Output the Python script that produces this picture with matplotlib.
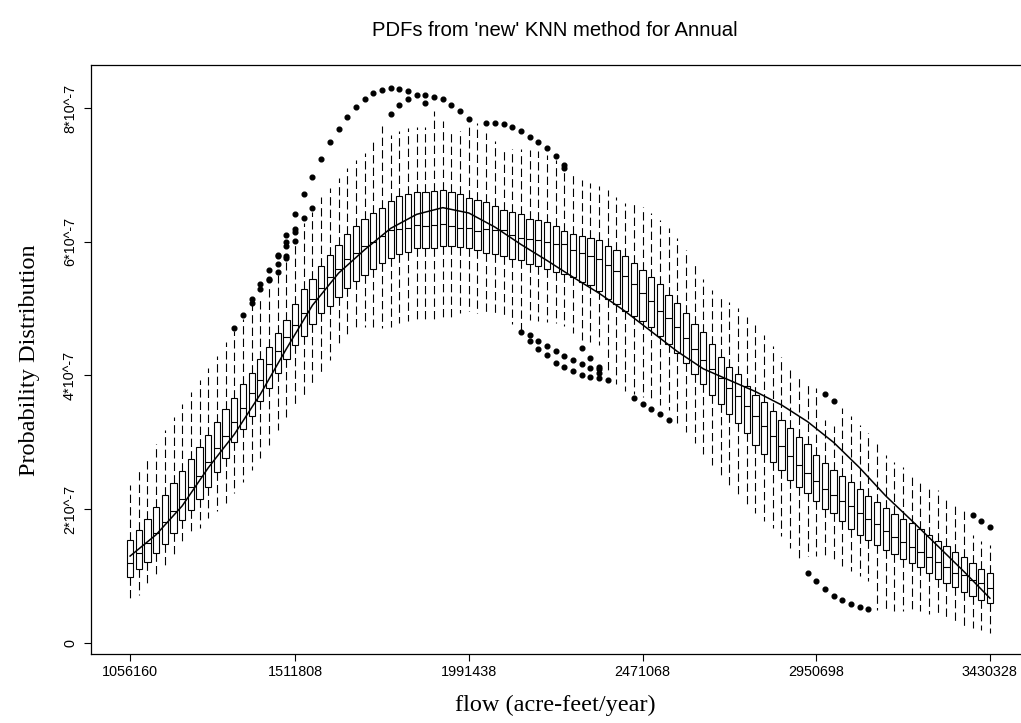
import matplotlib
matplotlib.use("Agg")
import matplotlib.pyplot as plt

plt.rcParams['lines.scale_dashes'] = False

# ---------------- data (values in units of 1e-7) ----------------
box_pos = list(range(1, 101))

whislo = [0.61, 0.72, 0.84, 0.99, 1.16, 1.33, 1.51, 1.62, 1.72, 1.87,
          1.97, 2.10, 2.25, 2.41, 2.58, 2.76, 2.96, 3.18, 3.38, 3.55,
          3.71, 3.87, 4.05, 4.23, 4.43, 4.56, 4.69, 4.73, 4.73, 4.71,
          4.73, 4.78, 4.81, 4.78, 4.78, 4.78, 4.81, 4.86, 4.93, 4.96,
          4.93, 4.93, 4.89, 4.87, 4.77, 4.68, 4.83, 4.81, 4.80, 4.78,
          4.74, 4.63, 4.53, 4.50, 4.46, 4.03, 3.88, 3.77, 3.73, 3.68,
          3.61, 3.56, 3.48, 3.29, 3.16, 2.99, 2.83, 2.66, 2.50, 2.35,
          2.21, 2.06, 1.94, 1.83, 1.72, 1.60, 1.42, 1.24, 1.30, 1.30,
          1.25, 1.20, 1.15, 1.08, 1.00, 0.92, 0.49, 0.48, 0.48, 0.48,
          0.48, 0.48, 0.44, 0.42, 0.34, 0.29, 0.24, 0.22, 0.19, 0.15]

q1 = [0.98, 1.10, 1.21, 1.34, 1.48, 1.65, 1.84, 1.99, 2.16, 2.34,
      2.55, 2.76, 3.00, 3.20, 3.40, 3.62, 3.82, 4.04, 4.25, 4.46,
      4.59, 4.77, 4.93, 5.04, 5.18, 5.31, 5.41, 5.50, 5.59, 5.68,
      5.75, 5.82, 5.85, 5.90, 5.90, 5.90, 5.93, 5.93, 5.92, 5.90,
      5.88, 5.83, 5.81, 5.78, 5.74, 5.72, 5.67, 5.64, 5.59, 5.55,
      5.52, 5.48, 5.40, 5.35, 5.27, 5.15, 5.07, 4.97, 4.89, 4.82,
      4.73, 4.59, 4.47, 4.33, 4.18, 4.02, 3.88, 3.71, 3.57, 3.42,
      3.29, 3.14, 2.96, 2.83, 2.71, 2.58, 2.44, 2.33, 2.24, 2.13,
      2.01, 1.94, 1.83, 1.71, 1.62, 1.54, 1.46, 1.39, 1.33, 1.25,
      1.19, 1.13, 1.04, 0.95, 0.89, 0.84, 0.76, 0.70, 0.65, 0.60]

med = [1.20, 1.34, 1.49, 1.64, 1.81, 1.98, 2.15, 2.33, 2.50, 2.70,
       2.91, 3.10, 3.31, 3.51, 3.74, 3.94, 4.17, 4.37, 4.57, 4.76,
       4.93, 5.14, 5.31, 5.47, 5.59, 5.74, 5.83, 5.94, 6.00, 6.09,
       6.18, 6.19, 6.21, 6.25, 6.24, 6.25, 6.26, 6.23, 6.20, 6.20,
       6.16, 6.19, 6.17, 6.18, 6.10, 6.05, 6.04, 6.02, 5.99, 5.97,
       5.96, 5.88, 5.83, 5.79, 5.74, 5.65, 5.57, 5.49, 5.37, 5.24,
       5.11, 4.97, 4.86, 4.72, 4.56, 4.39, 4.23, 4.10, 3.96, 3.82,
       3.70, 3.55, 3.39, 3.25, 3.09, 2.94, 2.80, 2.66, 2.54, 2.42,
       2.30, 2.21, 2.13, 2.05, 1.95, 1.86, 1.78, 1.68, 1.59, 1.51,
       1.44, 1.36, 1.28, 1.21, 1.13, 1.05, 1.01, 0.94, 0.89, 0.82]

q3 = [1.54, 1.69, 1.85, 2.03, 2.21, 2.39, 2.57, 2.75, 2.93, 3.11,
      3.30, 3.50, 3.67, 3.87, 4.03, 4.25, 4.43, 4.64, 4.83, 5.07,
      5.29, 5.45, 5.64, 5.80, 5.95, 6.11, 6.24, 6.34, 6.43, 6.50,
      6.61, 6.68, 6.72, 6.74, 6.75, 6.76, 6.77, 6.75, 6.71, 6.66,
      6.62, 6.60, 6.54, 6.48, 6.44, 6.41, 6.34, 6.33, 6.29, 6.23,
      6.16, 6.12, 6.08, 6.05, 6.02, 5.94, 5.87, 5.79, 5.68, 5.58,
      5.47, 5.37, 5.21, 5.09, 4.93, 4.77, 4.65, 4.47, 4.28, 4.13,
      4.02, 3.85, 3.71, 3.61, 3.47, 3.33, 3.22, 3.08, 2.97, 2.81,
      2.69, 2.59, 2.50, 2.40, 2.30, 2.20, 2.11, 2.02, 1.93, 1.86,
      1.79, 1.71, 1.62, 1.53, 1.45, 1.36, 1.28, 1.19, 1.11, 1.04]

whishi = [2.37, 2.57, 2.78, 2.98, 3.19, 3.38, 3.57, 3.76, 3.94, 4.11,
          4.29, 4.50, 4.66, 4.84, 5.05, 5.18, 5.35, 5.50, 5.70, 5.98,
          6.28, 6.45, 6.67, 6.80, 6.95, 7.10, 7.22, 7.32, 7.52, 7.73,
          7.60, 7.66, 7.70, 7.71, 7.71, 7.96, 7.81, 7.65, 7.65, 7.72,
          7.77, 7.62, 7.50, 7.39, 7.39, 7.39, 7.37, 7.35, 7.30, 7.22,
          7.05, 7.05, 6.93, 6.88, 6.83, 6.77, 6.67, 6.58, 6.56, 6.52,
          6.43, 6.33, 6.20, 6.05, 5.88, 5.68, 5.45, 5.28, 5.19, 5.10,
          5.01, 4.88, 4.75, 4.61, 4.44, 4.27, 4.08, 3.96, 3.89, 3.82,
          3.33, 3.25, 3.52, 3.39, 3.26, 3.14, 2.97, 2.81, 2.71, 2.63,
          2.54, 2.45, 2.36, 2.29, 2.19, 2.11, 2.01, 1.62, 1.52, 1.47]

# outliers: box index and value
out_box = [13, 14, 15, 15, 16, 16, 17, 17, 17, 18, 18, 18, 18,
           19, 19, 19, 19, 19, 20, 20, 20, 20, 21, 21, 22, 22,
           23, 24, 25, 26, 27, 28, 29, 30, 31, 31, 32, 32, 33, 33,
           34, 35, 35, 36, 37, 38, 39, 40, 42, 43, 44, 45, 46, 47,
           48, 49, 50, 51, 51,
           46, 47, 47, 48, 48, 49, 49, 50, 50, 51, 51, 52, 52,
           53, 53, 53, 54, 54, 54, 55, 55, 55, 55, 56,
           59, 60, 61, 62, 63,
           79, 80, 81, 82, 83, 84, 85, 86,
           81, 82, 98, 99, 100]
out_val = [4.71, 4.91, 5.14, 5.09, 5.37, 5.29, 5.58, 5.45, 5.43, 5.80, 5.78, 5.67, 5.55,
           6.10, 5.99, 5.93, 5.78, 5.75, 6.41, 6.19, 6.14, 6.01, 6.71, 6.35, 6.97, 6.51,
           7.24, 7.49, 7.69, 7.87, 8.02, 8.14, 8.23, 8.27, 8.30, 7.91, 8.29, 8.04, 8.25, 8.13,
           8.19, 8.20, 8.07, 8.17, 8.13, 8.04, 7.95, 7.83, 7.77, 7.77, 7.76, 7.71, 7.65, 7.57,
           7.49, 7.40, 7.28, 7.15, 7.11,
           4.65, 4.61, 4.51, 4.52, 4.40, 4.44, 4.30, 4.36, 4.19, 4.29, 4.13, 4.23, 4.06,
           4.41, 4.17, 4.01, 4.26, 4.11, 3.98, 4.13, 4.09, 4.04, 3.96, 3.93,
           3.67, 3.58, 3.50, 3.42, 3.33,
           1.05, 0.92, 0.81, 0.71, 0.64, 0.58, 0.54, 0.51,
           3.73, 3.62, 1.91, 1.83, 1.74]

# smooth reference curve (box index, value)
line_pos = [1, 4, 7, 10, 13, 16, 19, 22, 25, 28, 31, 34, 37, 40, 43, 46, 49,
            52, 55, 58, 61, 64, 67, 70, 73, 76, 79, 82, 85, 88, 91, 94, 97, 100]
line_val = [1.30, 1.62, 2.05, 2.62, 3.12, 3.72, 4.40, 5.05, 5.53, 5.88, 6.20,
            6.41, 6.51, 6.43, 6.22, 5.96, 5.72, 5.47, 5.23, 4.96, 4.66, 4.36,
            4.10, 3.93, 3.76, 3.56, 3.31, 3.00, 2.62, 2.20, 1.83, 1.45, 1.07, 0.67]

tick_idx = [1, 20, 40, 60, 80, 100]
tick_labels = ["1056160", "1511808", "1991438", "2471068", "2950698", "3430328"]
ytick_vals = [0, 2, 4, 6, 8]
ytick_labels = ["0", "2*10^-7", "4*10^-7", "6*10^-7", "8*10^-7"]

SCALE = 1e-7

# ---------------- figure ----------------
W, H = 1021, 723
fig = plt.figure(figsize=(W / 100, H / 100), dpi=100)
ax = fig.add_axes([91 / W, (H - 654) / H, 938 / W, 589 / H])

stats = []
for i, p in enumerate(box_pos):
    fl = [v * SCALE for b, v in zip(out_box, out_val) if b == p]
    stats.append(dict(med=med[i] * SCALE, q1=q1[i] * SCALE, q3=q3[i] * SCALE,
                      whislo=whislo[i] * SCALE, whishi=whishi[i] * SCALE,
                      fliers=fl))

ax.bxp(stats, positions=box_pos, widths=0.72, showcaps=False,
       patch_artist=True, manage_ticks=False,
       boxprops=dict(facecolor='white', edgecolor='black', linewidth=0.8),
       whiskerprops=dict(color='black', linewidth=0.8, linestyle=(0, (6.0, 3.0))),
       medianprops=dict(color='black', linewidth=0.8),
       flierprops=dict(marker='o', markerfacecolor='black',
                       markeredgecolor='black', markersize=3.4))

ax.plot(line_pos, [v * SCALE for v in line_val], color='black', lw=1.1, zorder=5)

ax.set_xlim(-3.5, 104.5)
ax.set_ylim(-0.1645 * SCALE, 8.643 * SCALE)

ax.set_xticks(tick_idx)
ax.set_xticklabels(tick_labels, fontsize=10.4, family='Liberation Sans')
ax.set_yticks([v * SCALE for v in ytick_vals])
ax.set_yticklabels(ytick_labels, fontsize=10.4, family='Liberation Sans',
                   rotation=90, va='center')
ax.tick_params(direction='out', length=5, width=0.8, pad=3, colors='black')
ax.tick_params(axis='y', pad=5)
for s in ax.spines.values():
    s.set_linewidth(0.9)
    s.set_color('black')

fig.text(555 / W, 1 - 31 / H, "PDFs from 'new' KNN method for Annual",
         ha='center', va='center', fontsize=14.6, family='Liberation Sans')
fig.text(555 / W, 1 - 705 / H, "flow (acre-feet/year)",
         ha='center', va='center', fontsize=17.5, family='Liberation Serif')
fig.text(30 / W, 1 - 360 / H, "Probability Distribution", rotation=90,
         ha='center', va='center', fontsize=17.5, family='Liberation Serif')

fig.savefig("out.png", dpi=100)
